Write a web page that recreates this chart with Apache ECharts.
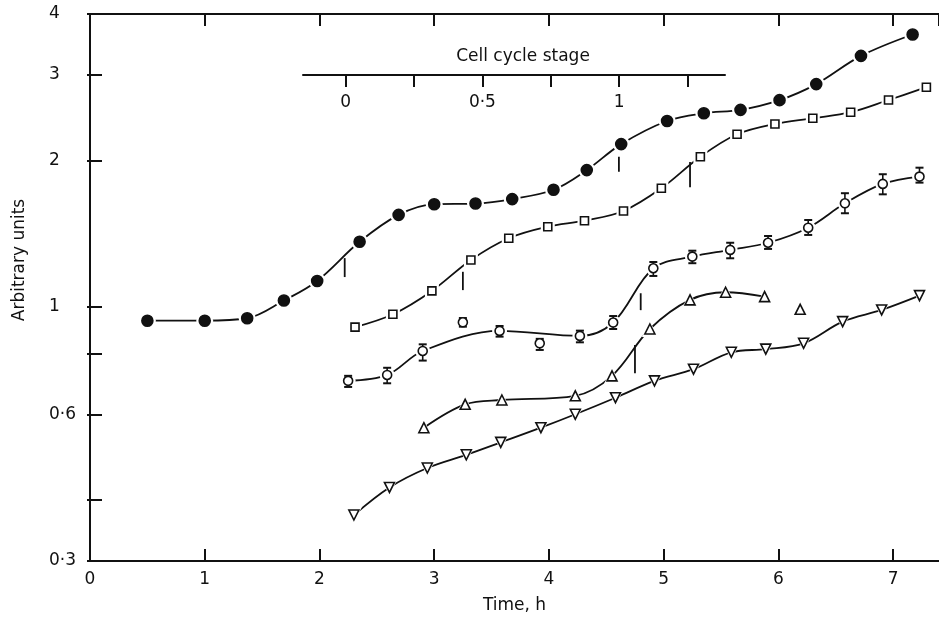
<!DOCTYPE html>
<html>
<head>
<meta charset="utf-8">
<script src="https://cdn.jsdelivr.net/npm/echarts@6/dist/echarts.min.js"></script>
<style>
html, body { margin: 0; padding: 0; background: #fff; }
#main { width: 939px; height: 623px; }
</style>
</head>
<body>
<div id="main"></div>
<script>
// values, time in h
var filledT = [0.50, 1.00, 1.37, 1.69, 1.98, 2.35, 2.69, 3.00, 3.36, 3.68, 4.04, 4.33, 4.63, 5.03, 5.35, 5.67, 6.01, 6.33, 6.72, 7.17];
var filledV = [0.936, 0.936, 0.947, 1.03, 1.13, 1.36, 1.545, 1.625, 1.63, 1.665, 1.74, 1.91, 2.16, 2.41, 2.50, 2.54, 2.66, 2.87, 3.28, 3.63];

var squareT = [2.31, 2.64, 2.98, 3.32, 3.65, 3.99, 4.31, 4.65, 4.98, 5.32, 5.64, 5.97, 6.30, 6.63, 6.96, 7.29];
var squareV = [0.908, 0.965, 1.078, 1.248, 1.383, 1.461, 1.503, 1.574, 1.753, 2.035, 2.263, 2.376, 2.441, 2.512, 2.662, 2.828];

var circleT = [2.25, 2.59, 2.90, 3.25, 3.57, 3.92, 4.27, 4.56, 4.91, 5.25, 5.58, 5.91, 6.26, 6.58, 6.91, 7.23];
var circleV = [0.704, 0.724, 0.811, 0.929, 0.892, 0.841, 0.871, 0.928, 1.200, 1.268, 1.309, 1.354, 1.454, 1.632, 1.789, 1.852];
var circleLo = [0.684, 0.696, 0.775, 0.910, 0.868, 0.815, 0.845, 0.900, 1.157, 1.229, 1.258, 1.315, 1.405, 1.557, 1.703, 1.800];
var circleHi = [0.721, 0.749, 0.837, 0.948, 0.913, 0.859, 0.893, 0.957, 1.236, 1.304, 1.354, 1.398, 1.508, 1.712, 1.873, 1.932];
var circleOffCurve = [3, 5];

var triT = [2.91, 3.27, 3.59, 4.23, 4.55, 4.88, 5.23, 5.54, 5.88, 6.19];
var triV = [0.564, 0.630, 0.643, 0.656, 0.721, 0.900, 1.033, 1.071, 1.049, 0.988];
var triOffCurve = [9];

var invT = [2.30, 2.61, 2.94, 3.28, 3.58, 3.93, 4.23, 4.58, 4.92, 5.26, 5.59, 5.89, 6.22, 6.56, 6.90, 7.23];
var invV = [0.373, 0.425, 0.466, 0.496, 0.526, 0.564, 0.601, 0.650, 0.704, 0.744, 0.806, 0.818, 0.841, 0.932, 0.985, 1.054];

// short vertical marks (division)
var divT = [2.22, 3.25, 4.61, 5.23, 4.80, 4.75];
var divLo = [1.151, 1.082, 1.895, 1.762, 0.984, 0.730];
var divHi = [1.259, 1.180, 2.034, 1.984, 1.066, 0.834];

var yTicks = [0.3, 0.4, 0.6, 0.8, 1, 2, 3, 4];
var yLabels = [0.3, 0.6, 1, 2, 3, 4];
var stageTicks = [0, 0.25, 0.5, 0.75, 1, 1.25];
var stageLabels = [0, 0.5, 1];
var stageMin = -0.156, stageMax = 1.387;

var ink = '#111';
var font = 'DejaVu Sans';
var fs = 17;

function fmt(v) {
	return String(Math.round(v * 100) / 100).replace('.', '\u00b7');
}
function pairs(t, v, skip) {
	var out = [];
	for (var i = 0; i < t.length; i++) {
		if (skip && skip.indexOf(i) >= 0) continue;
		out.push([t[i], v[i]]);
	}
	return out;
}

function curveSeries(t, v, skip) {
	return {
		type: 'line', data: pairs(t, v, skip), smooth: 0.35, showSymbol: false, silent: true,
		lineStyle: { color: ink, width: 1.8 }, z: 2
	};
}
function haloSeries(t, v, symbol, size, rot) {
	return {
		type: 'scatter', data: pairs(t, v), symbol: symbol, symbolSize: size + 6, symbolRotate: rot || 0,
		silent: true, itemStyle: { color: '#fff', opacity: 1 }, z: 3
	};
}
function markSeries(t, v, symbol, size, fill, rot) {
	return {
		type: 'scatter', data: pairs(t, v), symbol: symbol, symbolSize: size, symbolRotate: rot || 0,
		silent: true, itemStyle: { color: fill, borderColor: ink, borderWidth: 1.6, opacity: 1 }, z: 5
	};
}

var errData = circleT.map(function(t, i) { return [t, circleLo[i], circleHi[i]]; });
var divData = divT.map(function(t, i) { return [t, divLo[i], divHi[i]]; });

var chart = echarts.init(document.getElementById('main'));

chart.setOption({
	animation: false,
	grid: [
		{ left: 90, right: 0, top: 14, bottom: 62, outerBoundsMode: 'none' },
		{ left: 303, right: 214, top: 74, height: 1, outerBoundsMode: 'none' }
	],
	xAxis: [{
		type: 'value', gridIndex: 0, min: 0, max: 7.4, interval: 1,
		name: 'Time, h', nameLocation: 'middle', nameGap: 36,
		nameTextStyle: { color: ink, fontSize: fs, fontFamily: font },
		axisLine: { lineStyle: { color: ink, width: 2 } },
		axisTick: { inside: true, length: 12, lineStyle: { color: ink, width: 2 } },
		axisLabel: { color: ink, fontSize: fs, fontFamily: font, margin: 10, showMaxLabel: false },
		splitLine: { show: false }
	}, {
		type: 'value', gridIndex: 0, position: 'top', min: 0, max: 7.4, interval: 1,
		axisLine: { lineStyle: { color: ink, width: 2 } },
		axisTick: { inside: true, length: 12, lineStyle: { color: ink, width: 2 } },
		axisLabel: { show: false },
		splitLine: { show: false }
	}, {
		type: 'value', gridIndex: 1, position: 'top', min: stageMin, max: stageMax,
		name: 'Cell cycle stage', nameLocation: 'middle', nameGap: 9,
		nameTextStyle: { color: ink, fontSize: fs, fontFamily: font, padding: [0, 0, 0, 18] },
		axisLine: { lineStyle: { color: ink, width: 2 } },
		axisTick: { inside: true, length: 12, customValues: stageTicks, lineStyle: { color: ink, width: 2 } },
		axisLabel: { inside: true, margin: 20, customValues: stageLabels, formatter: fmt, color: ink, fontSize: fs, fontFamily: font },
		splitLine: { show: false }
	}],
	yAxis: [{
		type: 'log', gridIndex: 0, min: 0.3, max: 4, logBase: 10,
		axisLine: { show: true, lineStyle: { color: ink, width: 2 } },
		axisTick: { show: true, inside: true, length: 12, customValues: yTicks, lineStyle: { color: ink, width: 2 } },
		axisLabel: { customValues: yLabels, formatter: fmt, align: 'left', margin: 41, color: ink, fontSize: fs, fontFamily: font },
		splitLine: { show: false }
	}, {
		type: 'log', gridIndex: 0, position: 'right', offset: -2, min: 0.3, max: 4, logBase: 10,
		axisLine: { show: true, lineStyle: { color: ink, width: 2, opacity: 0 } },
		axisTick: { show: true, inside: true, length: 5, customValues: yTicks, lineStyle: { color: ink, width: 2 } },
		axisLabel: { show: false },
		splitLine: { show: false }
	}, {
		type: 'value', gridIndex: 1, show: false
	}],
	graphic: [{
		type: 'text', x: 20, y: 260, rotation: Math.PI / 2,
		style: { text: 'Arbitrary units', fill: ink, font: fs + 'px "DejaVu Sans"', textAlign: 'center', textVerticalAlign: 'middle' }
	}],
	series: [
		curveSeries(filledT, filledV),
		curveSeries(squareT, squareV),
		curveSeries(circleT, circleV, circleOffCurve),
		curveSeries(triT, triV, triOffCurve),
		curveSeries(invT, invV),
		haloSeries(filledT, filledV, 'circle', 11),
		haloSeries(squareT, squareV, 'rect', 8),
		haloSeries(circleT, circleV, 'circle', 9),
		haloSeries(triT, triV, 'triangle', 10),
		haloSeries(invT, invV, 'triangle', 10, 180),
		{
			type: 'custom', data: errData, silent: true, z: 4,
			renderItem: function(params, api) {
				var t = api.value(0);
				var lo = api.coord([t, api.value(1)]);
				var hi = api.coord([t, api.value(2)]);
				var w = 4;
				return {
					type: 'group', children: [
						{ type: 'line', shape: { x1: lo[0], y1: lo[1], x2: hi[0], y2: hi[1] }, style: { stroke: ink, lineWidth: 1.6 } },
						{ type: 'line', shape: { x1: lo[0] - w, y1: lo[1], x2: lo[0] + w, y2: lo[1] }, style: { stroke: ink, lineWidth: 2 } },
						{ type: 'line', shape: { x1: hi[0] - w, y1: hi[1], x2: hi[0] + w, y2: hi[1] }, style: { stroke: ink, lineWidth: 2 } }
					]
				};
			}
		},
		markSeries(filledT, filledV, 'circle', 11, ink),
		markSeries(squareT, squareV, 'rect', 8, '#fff'),
		markSeries(circleT, circleV, 'circle', 9, '#fff'),
		markSeries(triT, triV, 'triangle', 10, '#fff'),
		markSeries(invT, invV, 'triangle', 10, '#fff', 180),
		{
			type: 'custom', data: divData, silent: true, z: 6,
			renderItem: function(params, api) {
				var t = api.value(0);
				var lo = api.coord([t, api.value(1)]);
				var hi = api.coord([t, api.value(2)]);
				return { type: 'line', shape: { x1: lo[0], y1: lo[1], x2: hi[0], y2: hi[1] }, style: { stroke: ink, lineWidth: 1.8 } };
			}
		}
	]
});
</script>
</body>
</html>
